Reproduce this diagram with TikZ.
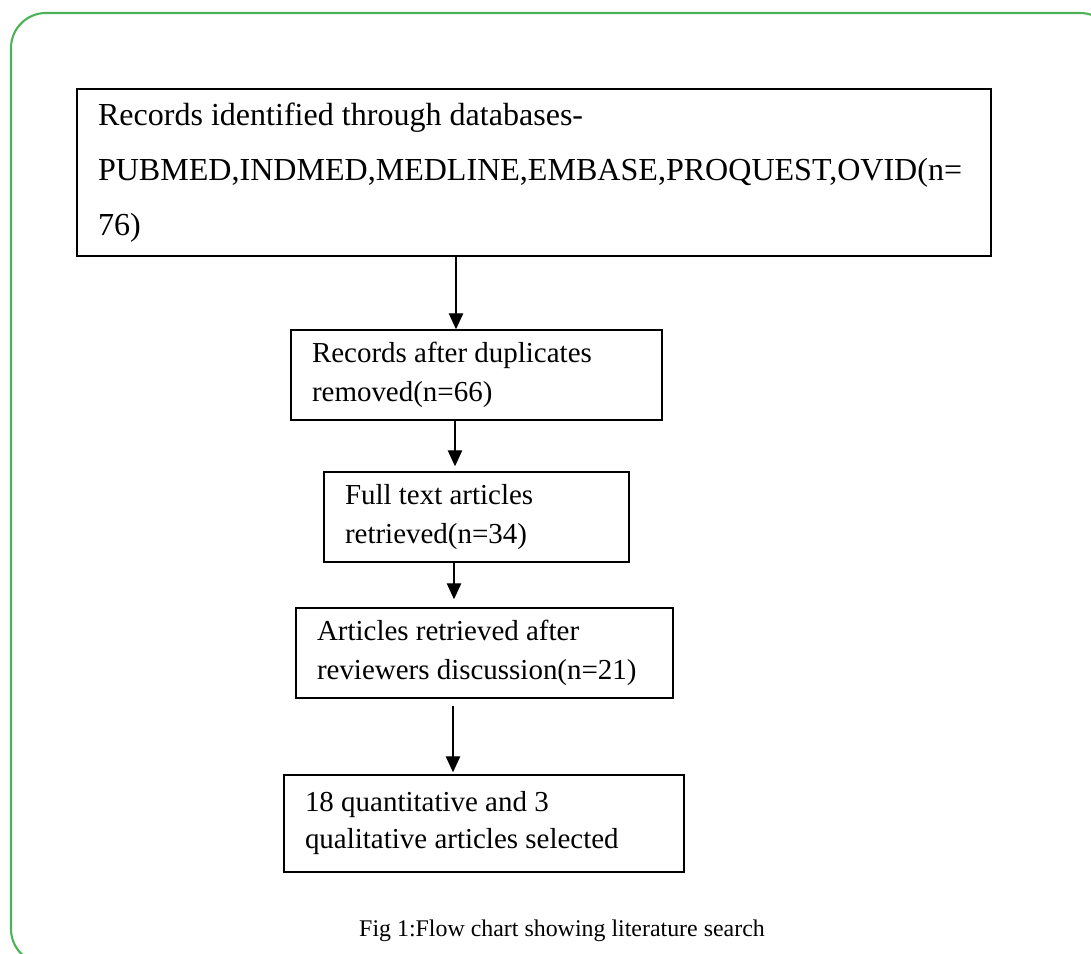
\documentclass[tikz,border=0pt]{standalone}
\usepackage{fontspec}
\setmainfont{Liberation Serif}
\usetikzlibrary{arrows.meta}
\definecolor{framegreen}{RGB}{76,178,88}
\begin{document}
\begin{tikzpicture}[
        bsty/.style={
            draw,line width=1pt,
            align=flush left,
            inner xsep=0.525cm,inner ysep=0pt,
            font=\fontsize{20.6}{27.8}\selectfont,
        },
        asty/.style={-{Triangle[length=0.4cm,width=0.36cm]},line width=1pt},
    ]
    \useasboundingbox (0,0) rectangle (27.275,23.85);
    \begin{scope}
        \clip (0,0) rectangle (27.275,23.85);
        \draw[framegreen,line width=1.5pt,rounded corners=0.875cm] (0.275,-0.25) rectangle (27.875,23.525);
    \end{scope}

    \node[bsty,text width=21.8cm,minimum height=4.175cm,font=\fontsize{22.8}{39.1}\selectfont] at (13.35,19.5375) (b1) {Records identified through databases-\\PUBMED,INDMED,MEDLINE,EMBASE,PROQUEST,OVID(n=\\76)};
    \node[bsty,text width=8.225cm,minimum height=2.25cm] at (11.9125,14.475) (b2) {Records after duplicates\\removed(n=66)};
    \node[bsty,text width=6.575cm,minimum height=2.25cm] at (11.9125,10.925) (b3) {Full text articles\\retrieved(n=34)};
    \node[bsty,text width=8.375cm,minimum height=2.25cm] at (12.1125,7.525) (b4) {Articles retrieved after\\reviewers discussion(n=21)};
    \node[bsty,text width=8.95cm,minimum height=2.425cm,font=\fontsize{20.6}{26.3}\selectfont] at (12.1,3.2625) (b5) {18 quantitative and 3\\qualitative articles selected};

    \foreach \a/\b/\x/\g/\h in {b1/b2/11.4/0/0,b2/b3/11.375/0/0.125,b3/b4/11.35/0/0.2,b4/b5/11.325/0.175/0.05}{
        \coordinate (ax) at (\x,0);
        \draw[asty,shorten <=\g cm,shorten >=\h cm] (\a.south -| ax) -- (\b.north -| ax);
    }

    \node[font=\fontsize{17}{20}\selectfont,anchor=base] at (14.05,0.4325) (cap) {Fig 1:Flow chart showing literature search};

\end{tikzpicture}
\end{document}
